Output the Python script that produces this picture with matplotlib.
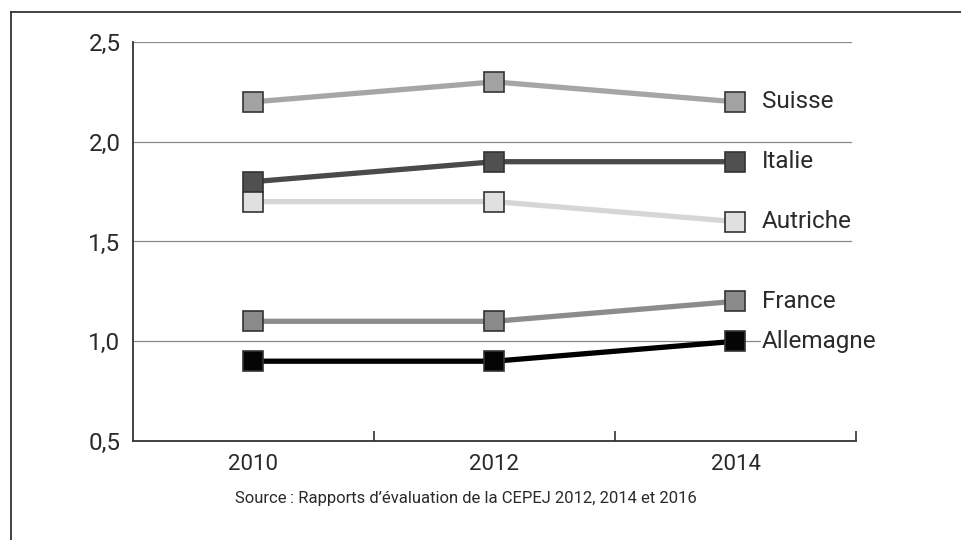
import numpy as np
import matplotlib.pyplot as plt
from matplotlib.lines import Line2D

years = ["2010", "2012", "2014"]
countries = ["Suisse", "Italie", "Autriche", "France", "Allemagne"]
suisse = [2.2, 2.3, 2.2]
italie = [1.8, 1.9, 1.9]
autriche = [1.7, 1.7, 1.6]
france = [1.1, 1.1, 1.2]
allemagne = [0.9, 0.9, 1.0]
yticks = [0.5, 1.0, 1.5, 2.0, 2.5]
ytick_labels = ["0,5", "1,0", "1,5", "2,0", "2,5"]
source = "Source\u202f: Rapports d\u2019évaluation de la CEPEJ 2012, 2014 et 2016"

series = [suisse, italie, autriche, france, allemagne]
line_colors = ["#a6a6a6", "#4a4a4a", "#d6d6d6", "#8c8c8c", "#000000"]
fill_colors = ["#a2a2a2", "#505050", "#e0e0e0", "#8a8a8a", "#050505"]

plt.rcParams['font.family'] = ['Roboto', 'DejaVu Sans']

fig = plt.figure(figsize=(9.62, 5.4), dpi=100)
ax = fig.add_axes([133/962, 1 - 441/540, (856-133)/962, (441-42)/540])

x = np.arange(len(years))
for yv in yticks[1:]:
    ax.plot([-0.5, 2.48], [yv, yv], color="#8a8a8a", lw=0.9, zorder=1)

for name, vals, lc, fc in zip(countries, series, line_colors, fill_colors):
    ax.plot(x, vals, color=lc, lw=3.8, zorder=2, solid_capstyle="butt")
    ax.plot(x, vals, ls="none", marker="s", markersize=14.5, markerfacecolor=fc,
            markeredgecolor="#333333", markeredgewidth=1.2, zorder=3)
    ax.text(x[-1] + 0.11, vals[-1], name, fontsize=17.5, color="#2a2a2a",
            va="center", ha="left", zorder=4,
            bbox=dict(facecolor="white", edgecolor="none", pad=0.5))

ax.set_xlim(-0.5, 2.5)
ax.set_ylim(0.5, 2.5)
ax.set_xticks(x)
ax.set_xticklabels(years, fontsize=16, color="#2a2a2a")
ax.tick_params(axis="x", which="major", length=0, pad=9)
ax.set_xticks([0.5, 1.5, 2.5], minor=True)
ax.tick_params(axis="x", which="minor", direction="in", length=7, width=1.2, color="#333333")
ax.set_yticks(yticks)
ax.set_yticklabels(ytick_labels, fontsize=17.5, color="#2a2a2a")
ax.tick_params(axis="y", length=0, pad=9)

ax.spines["top"].set_visible(False)
ax.spines["right"].set_visible(False)
for s in ["left", "bottom"]:
    ax.spines[s].set_color("#333333")
    ax.spines[s].set_linewidth(1.3)

fig.text(466/962, 1 - 499/540, source, ha="center", va="center", fontsize=12,
         color="#2a2a2a", family=['Liberation Sans Narrow', 'Roboto', 'DejaVu Sans'])

# cadre extérieur
fig.add_artist(Line2D([11/962, 11/962], [1 - 12/540, 0], color="#333333", lw=1.3))
fig.add_artist(Line2D([11/962, 1], [1 - 12/540, 1 - 12/540], color="#333333", lw=1.3))

fig.savefig("out.png", dpi=100)
